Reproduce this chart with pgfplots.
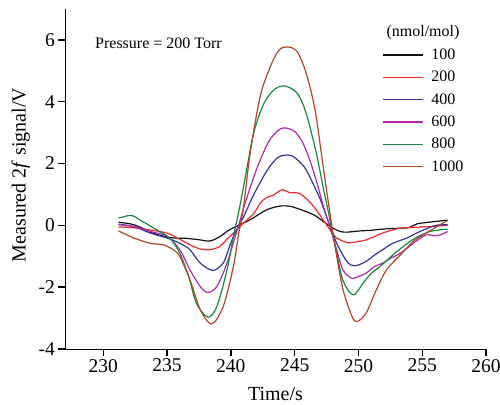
\documentclass[border=0pt]{standalone}
\usepackage{pgfplots}
\pgfplotsset{compat=1.18}
\usepackage{fontspec}
\setmainfont{Liberation Serif}
\definecolor{c100}{HTML}{111111}
\definecolor{c200}{HTML}{EE2A2A}
\definecolor{c400}{HTML}{3434A2}
\definecolor{c600}{HTML}{AE2AA6}
\definecolor{c800}{HTML}{168A3E}
\definecolor{c1000}{HTML}{B2442A}

\begin{document}
\begin{tikzpicture}
\useasboundingbox (-65pt,-55pt) rectangle (435pt,349pt);
\begin{axis}[
  scale only axis,
  width=421pt, height=340pt,
  xmin=227, xmax=260, ymin=-4, ymax=7,
  axis x line*=bottom, axis y line*=left,
  axis line style={line width=1pt},
  xtick={230,235,...,260},
  xticklabels={230,235,240,245,250,255,260},
  ytick={-4,-2,0,2,4,6},
  yticklabels={-4,-2,0,2,4,6},
  ticklabel style={font=\fontsize{19.5}{20}\selectfont},
  xlabel={Time/s},
  ylabel={Measured 2\textit{f} signal/V},
  label style={font=\fontsize{20}{22}\selectfont},
  xlabel style={yshift=-8pt},
  ylabel style={yshift=2pt, xshift=4pt},
  legend style={draw=none, fill=none, at={(0.745,0.895)}, anchor=north west,
    font=\fontsize{16}{18}\selectfont, row sep=6.2pt,
    /tikz/every odd column/.append style={column sep=6pt}},
  legend cell align=left,
  legend image code/.code={\draw[#1, line width=1.6pt] (0pt,0pt) -- (40pt,0pt);},
  every axis plot/.append style={line width=1.2pt, smooth, tension=0.5},
  xtick align=outside, ytick align=outside,
  major tick length=6.5pt,
  tick style={draw=black, line width=1.4pt},
]
\addplot[c100] coordinates {
(231.2,0.10) (232.4,0.02) (233.9,-0.25) (235.0,-0.38) (235.5,-0.41) (236.5,-0.42)
(237.6,-0.47) (238.3,-0.51) (239.0,-0.40) (239.9,-0.14) (240.5,-0.02) (241.5,0.18)
(242.8,0.50) (243.8,0.62) (244.6,0.62) (245.4,0.52) (246.5,0.34) (247.2,0.14)
(248.0,-0.09) (248.6,-0.20) (249.1,-0.22) (250.1,-0.18) (251.0,-0.16) (251.9,-0.12)
(253.3,-0.09) (254.0,-0.07) (254.6,0.05) (255.9,0.12) (257.0,0.17)
};
\addlegendentry{100}
\addplot[c200] coordinates {
(231.2,-0.05) (232.4,-0.08) (233.7,-0.15) (235.0,-0.25) (236.0,-0.45) (236.8,-0.63)
(237.5,-0.75) (238.3,-0.79) (239.1,-0.69) (239.7,-0.45) (240.2,-0.25) (240.7,-0.04)
(241.8,0.39) (242.3,0.72) (242.8,0.90) (243.3,0.97) (244.0,1.15) (244.6,1.06)
(245.4,1.03) (246.2,0.75) (246.7,0.50) (247.2,0.20) (247.7,-0.10) (248.3,-0.41)
(249.2,-0.56) (250.0,-0.52) (250.6,-0.47) (251.9,-0.25) (252.5,-0.17) (253.3,-0.09)
(254.6,-0.06) (255.9,-0.03) (257.0,0.00)
};
\addlegendentry{200}
\addplot[c400] coordinates {
(231.2,0.02) (232.4,-0.04) (233.7,-0.25) (235.0,-0.41) (236.0,-0.58) (236.8,-0.79)
(237.6,-1.22) (238.6,-1.46) (239.4,-1.22) (239.8,-0.80) (240.2,-0.36) (241.0,0.28)
(241.8,1.00) (242.8,1.75) (243.6,2.17) (244.2,2.27) (244.8,2.25) (245.4,2.05)
(245.9,1.80) (246.5,1.30) (247.0,0.85) (247.5,0.28) (248.3,-0.58) (249.1,-1.17)
(249.7,-1.31) (250.6,-1.17) (251.2,-0.98) (251.9,-0.79) (252.7,-0.58) (253.8,-0.41)
(254.4,-0.28) (255.1,-0.15) (255.9,-0.02) (256.4,0.02) (257.0,0.02)
};
\addlegendentry{400}
\addplot[c600] coordinates {
(231.2,0.04) (232.4,-0.04) (233.7,-0.20) (235.0,-0.35) (236.0,-0.79) (236.8,-1.44)
(237.6,-1.98) (238.2,-2.17) (238.9,-1.98) (239.7,-1.22) (240.5,-0.15) (241.2,0.83)
(242.0,1.80) (242.6,2.40) (243.1,2.80) (243.8,3.10) (244.3,3.15) (245.0,3.04)
(245.6,2.70) (246.2,2.10) (246.8,1.30) (247.3,0.55) (247.8,-0.10) (248.3,-0.80)
(248.8,-1.45) (249.5,-1.71) (250.2,-1.62) (250.6,-1.55) (251.2,-1.35) (251.9,-1.22)
(252.6,-1.05) (253.3,-0.90) (254.3,-0.58) (255.3,-0.31) (256.0,-0.34) (256.4,-0.31)
(257.0,-0.20)
};
\addlegendentry{600}
\addplot[c800] coordinates {
(231.2,0.23) (232.2,0.32) (233.1,0.12) (234.2,-0.15) (235.2,-0.41) (236.0,-0.90)
(236.7,-1.66) (237.3,-2.52) (238.2,-2.97) (238.9,-2.63) (239.7,-1.44) (240.2,-0.36)
(240.6,0.40) (241.0,1.26) (241.8,3.00) (242.6,3.95) (243.4,4.39) (244.2,4.51)
(245.2,4.28) (245.9,3.63) (246.7,2.34) (247.2,1.30) (247.5,0.72) (247.9,-0.10)
(248.3,-0.90) (248.8,-1.80) (249.6,-2.25) (250.4,-1.85) (251.0,-1.55) (251.7,-1.33)
(253.0,-0.85) (254.3,-0.45) (255.6,-0.20) (257.0,-0.12)
};
\addlegendentry{800}
\addplot[c1000] coordinates {
(231.2,-0.18) (232.4,-0.41) (233.7,-0.58) (234.7,-0.63) (235.5,-0.79) (236.0,-1.01)
(236.8,-1.76) (237.6,-2.73) (238.5,-3.19) (239.4,-2.63) (240.2,-1.33) (240.6,-0.30)
(241.0,0.60) (241.5,2.30) (242.3,4.17) (243.1,5.14) (243.8,5.68) (244.5,5.77)
(245.2,5.62) (245.9,4.93) (246.6,3.74) (247.2,2.01) (247.8,0.30) (248.3,-1.00)
(248.8,-2.09) (249.5,-2.95) (249.9,-3.11) (250.6,-2.84) (251.4,-2.09) (252.2,-1.44)
(253.3,-0.95) (254.3,-0.52) (255.3,-0.25) (256.4,0.02) (257.0,0.16)
};
\addlegendentry{1000}
\node[anchor=west, font=\fontsize{16}{18}\selectfont, inner sep=0pt] at (axis cs:229.35,5.9) {Pressure = 200 Torr};
\node[font=\fontsize{16}{18}\selectfont, inner sep=0pt] at (axis cs:255.06,6.23) {(nmol/mol)};
\end{axis}
\end{tikzpicture}
\end{document}
